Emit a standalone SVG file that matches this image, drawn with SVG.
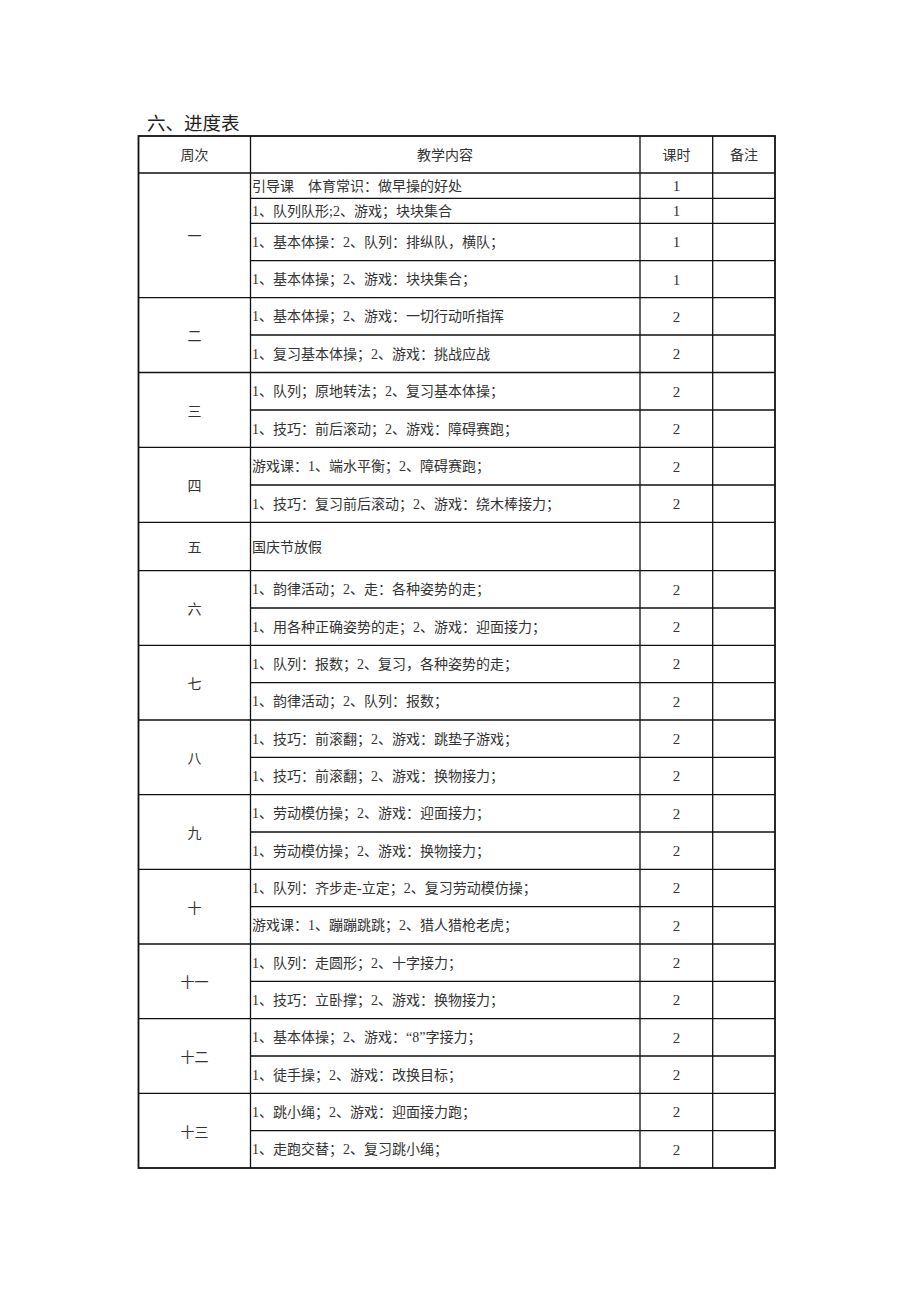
<svg xmlns="http://www.w3.org/2000/svg" width="920" height="1302" viewBox="0 0 920 1302">
<style>
text{font-family:"Liberation Serif","Noto Sans CJK SC",serif;font-size:14px;fill:#333;dominant-baseline:central}
.t{font-size:18.5px;fill:#222}
.c{text-anchor:middle}
.n{font-size:15px}
.g{stroke:#111;stroke-width:1.3;fill:none}
.o{stroke:#111;stroke-width:1.8;fill:none}
</style>
<rect width="920" height="1302" fill="#fff"/>
<text class="t" x="147" y="124">六、进度表</text>
<g id="grid">
<path class="g" d="M138.5 173H775M138.5 297.7H775M138.5 372.5H775M138.5 447.3H775M138.5 522.3H775M138.5 570.7H775M138.5 645.4H775M138.5 720H775M138.5 794.7H775M138.5 869.4H775M138.5 944H775M138.5 1018.7H775M138.5 1093.4H775"/>
<path class="g" d="M250.5 198.3H775M250.5 223.3H775M250.5 260.7H775M250.5 335H775M250.5 410H775M250.5 485H775M250.5 608H775M250.5 682.7H775M250.5 757.4H775M250.5 832H775M250.5 906.7H775M250.5 981.4H775M250.5 1056H775M250.5 1130.7H775"/>
<path class="g" d="M250.5 136V1168M640 136V1168M712.7 136V1168"/>
<rect class="o" x="138.5" y="136" width="636.5" height="1032"/>
</g>
<g id="header">
<text class="c" x="194.5" y="155">周次</text>
<text class="c" x="445" y="155">教学内容</text>
<text class="c" x="676.5" y="155">课时</text>
<text class="c" x="744" y="155">备注</text>
</g>
<g id="weeks">
<text class="c" x="194.5" y="236">一</text>
<text class="c" x="194.5" y="336.5">二</text>
<text class="c" x="194.5" y="411">三</text>
<text class="c" x="194.5" y="486">四</text>
<text class="c" x="194.5" y="547">五</text>
<text class="c" x="194.5" y="609">六</text>
<text class="c" x="194.5" y="684">七</text>
<text class="c" x="194.5" y="758.5">八</text>
<text class="c" x="194.5" y="833">九</text>
<text class="c" x="194.5" y="908">十</text>
<text class="c" x="194.5" y="982.5">十一</text>
<text class="c" x="194.5" y="1057">十二</text>
<text class="c" x="194.5" y="1132">十三</text>
</g>
<g id="content">
<text x="252" y="186">引导课　体育常识：做早操的好处</text>
<text x="252" y="211">1、队列队形;2、游戏；块块集合</text>
<text x="252" y="242">1、基本体操：2、队列：排纵队，横队；</text>
<text x="252" y="279.5">1、基本体操；2、游戏：块块集合；</text>
<text x="252" y="316.5">1、基本体操；2、游戏：一切行动听指挥</text>
<text x="252" y="354">1、复习基本体操；2、游戏：挑战应战</text>
<text x="252" y="391.5">1、队列；原地转法；2、复习基本体操；</text>
<text x="252" y="429">1、技巧：前后滚动；2、游戏：障碍赛跑；</text>
<text x="252" y="466.5">游戏课：1、端水平衡；2、障碍赛跑；</text>
<text x="252" y="504">1、技巧：复习前后滚动；2、游戏：绕木棒接力；</text>
<text x="252" y="547">国庆节放假</text>
<text x="252" y="589.5">1、韵律活动；2、走：各种姿势的走；</text>
<text x="252" y="627">1、用各种正确姿势的走；2、游戏：迎面接力；</text>
<text x="252" y="664">1、队列：报数；2、复习，各种姿势的走；</text>
<text x="252" y="701.5">1、韵律活动；2、队列：报数；</text>
<text x="252" y="739">1、技巧：前滚翻；2、游戏：跳垫子游戏；</text>
<text x="252" y="776">1、技巧：前滚翻；2、游戏：换物接力；</text>
<text x="252" y="813.5">1、劳动模仿操；2、游戏：迎面接力；</text>
<text x="252" y="851">1、劳动模仿操；2、游戏：换物接力；</text>
<text x="252" y="888">1、队列：齐步走-立定；2、复习劳动模仿操；</text>
<text x="252" y="925.5">游戏课：1、蹦蹦跳跳；2、猎人猎枪老虎；</text>
<text x="252" y="963">1、队列：走圆形；2、十字接力；</text>
<text x="252" y="1000">1、技巧：立卧撑；2、游戏：换物接力；</text>
<text x="252" y="1037.5">1、基本体操；2、游戏：“8”字接力；</text>
<text x="252" y="1075">1、徒手操；2、游戏：改换目标；</text>
<text x="252" y="1112">1、跳小绳；2、游戏：迎面接力跑；</text>
<text x="252" y="1149.5">1、走跑交替；2、复习跳小绳；</text>
</g>
<g id="hours" class="n">
<text class="c n" x="676.5" y="186">1</text>
<text class="c n" x="676.5" y="211">1</text>
<text class="c n" x="676.5" y="242">1</text>
<text class="c n" x="676.5" y="279.5">1</text>
<text class="c n" x="676.5" y="316.5">2</text>
<text class="c n" x="676.5" y="354">2</text>
<text class="c n" x="676.5" y="391.5">2</text>
<text class="c n" x="676.5" y="429">2</text>
<text class="c n" x="676.5" y="466.5">2</text>
<text class="c n" x="676.5" y="504">2</text>
<text class="c n" x="676.5" y="589.5">2</text>
<text class="c n" x="676.5" y="627">2</text>
<text class="c n" x="676.5" y="664">2</text>
<text class="c n" x="676.5" y="701.5">2</text>
<text class="c n" x="676.5" y="739">2</text>
<text class="c n" x="676.5" y="776">2</text>
<text class="c n" x="676.5" y="813.5">2</text>
<text class="c n" x="676.5" y="851">2</text>
<text class="c n" x="676.5" y="888">2</text>
<text class="c n" x="676.5" y="925.5">2</text>
<text class="c n" x="676.5" y="963">2</text>
<text class="c n" x="676.5" y="1000">2</text>
<text class="c n" x="676.5" y="1037.5">2</text>
<text class="c n" x="676.5" y="1075">2</text>
<text class="c n" x="676.5" y="1112">2</text>
<text class="c n" x="676.5" y="1149.5">2</text>
</g>
</svg>
